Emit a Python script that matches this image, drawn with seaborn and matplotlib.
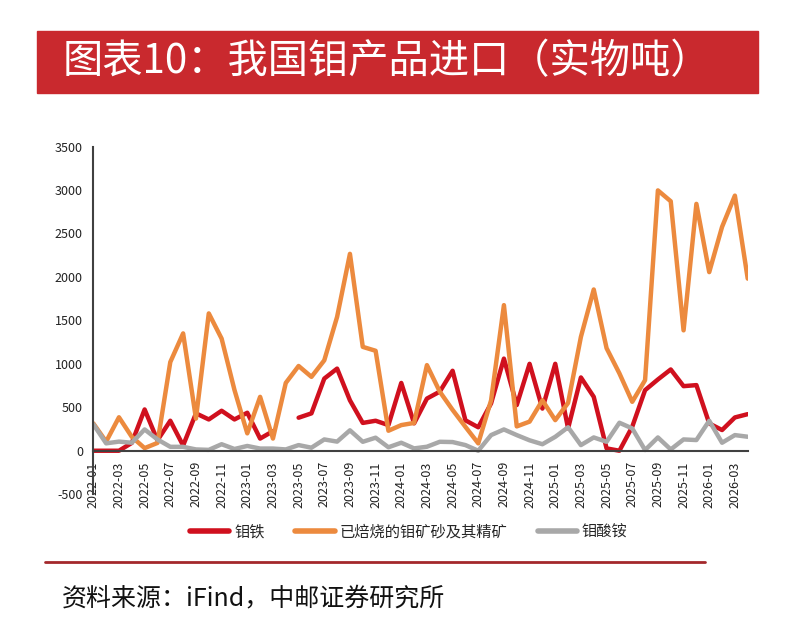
import numpy as np
import pandas as pd
import seaborn as sns
import matplotlib
matplotlib.use('Agg')
import matplotlib.pyplot as plt
from matplotlib.patches import Rectangle
from matplotlib.lines import Line2D

# monthly imports, tonnes
months = pd.period_range('2022-01', '2026-04', freq='M').strftime('%Y-%m').tolist()

ferro_moly = [0, 0, 0, 90, 475, 120, 345, 60, 430, 360, 460, 360,
              437, 140, 225, np.nan, 380, 430, 830, 945, 580, 320, 345, 295,
              780, 315, 600, 680, 920, 350, 270, 545, 1060, 525, 1000, 485,
              1000, 257, 843, 620, 27, 0, 276, 697, 820, 935, 743, 755,
              314, 238, 383, 421]

roasted_ore = [315, 105, 385, 160, 30, 90, 1020, 1350, 370, 1580, 1290, 700,
               200, 620, 140, 780, 975, 850, 1040, 1540, 2265, 1195, 1150, 230,
               295, 320, 985, 680, 470, 275, 85, 580, 1675, 280, 335, 580,
               352, 550, 1310, 1855, 1180, 890, 563, 812, 2995, 2870, 1385, 2840,
               2055, 2575, 2935, 1980]

amm_molybdate = [305, 85, 105, 92, 245, 130, 45, 45, 15, 10, 75, 20,
                 55, 25, 25, 15, 65, 35, 130, 105, 235, 103, 150, 40,
                 92, 27, 46, 103, 100, 65, 0, 180, 245, 180, 120, 75,
                 160, 270, 65, 153, 103, 322, 257, 8, 153, 15, 130, 123,
                 345, 92, 180, 161]

series_names = ['钼铁', '已焙烧的钼矿砂及其精矿', '钼酸铵']
colors = ['#D0101E', '#EC8A3E', '#A8A8A8']

df = pd.DataFrame({'month': months, 'i': range(len(months)),
                   series_names[0]: ferro_moly,
                   series_names[1]: roasted_ore,
                   series_names[2]: amm_molybdate})
long = df.melt(id_vars=['month', 'i'], var_name='item', value_name='tonnes')

sns.set_style('white')
plt.rcParams['font.family'] = ['Noto Sans CJK SC', 'DejaVu Sans']
plt.rcParams['axes.unicode_minus'] = False

fig = plt.figure(figsize=(7.86, 6.2), dpi=100)
ax = fig.add_axes([0.1187, 0.2029, 0.8326, 0.5608])

# draw each series; split on gaps so missing months leave a break
for name, c in zip(series_names, colors):
    sub = long[long['item'] == name].copy()
    sub['run'] = sub['tonnes'].isna().cumsum()
    sub = sub.dropna()
    for _, part in sub.groupby('run'):
        sns.lineplot(data=part, x='i', y='tonnes', color=c, linewidth=3.2,
                     ax=ax, legend=False,
                     solid_capstyle='round', solid_joinstyle='round')

# spine position first: it resets the tick styling
for s in ['top', 'right']:
    ax.spines[s].set_visible(False)
for s in ['left', 'bottom']:
    ax.spines[s].set_color('#404040')
    ax.spines[s].set_linewidth(1.5)
ax.spines['bottom'].set_position(('data', 0))

ax.set_xlim(0, len(months) - 1)
ax.set_ylim(-500, 3500)
ax.set_yticks(range(-500, 3501, 500))
ax.set_xticks(range(0, len(months), 2))
ax.set_xticklabels(months[::2], rotation=90, fontsize=9, color='#222222')
ax.tick_params(axis='y', labelsize=9, labelcolor='#222222')
ax.tick_params(direction='out', length=4, width=1, color='#404040')
ax.set_xlabel('')
ax.set_ylabel('')

# title banner
fig.patches.append(Rectangle((0.0471, 0.85), 0.917, 0.1, transform=fig.transFigure,
                             color='#C9292E', zorder=0))
fig.text(0.080, 0.90, '图表10：我国钼产品进口（实物吨）', color='white',
         fontsize=29, va='center', ha='left')

# legend
handles = [Line2D([0], [0], color=c, lw=4) for c in colors]
fig.legend(handles, series_names, loc='center', bbox_to_anchor=(0.52, 0.142),
           ncol=3, frameon=False, fontsize=11, handlelength=2.6,
           columnspacing=2.0, handletextpad=0.3)

# separator and source
fig.add_artist(Line2D([0.057, 0.897], [0.0935, 0.0935], color='#A3282B', lw=2,
                      transform=fig.transFigure))
fig.text(0.079, 0.0355, '资料来源：iFind，中邮证券研究所', fontsize=18,
         va='center', ha='left', color='#111111')

fig.savefig('out.png', dpi=100)
